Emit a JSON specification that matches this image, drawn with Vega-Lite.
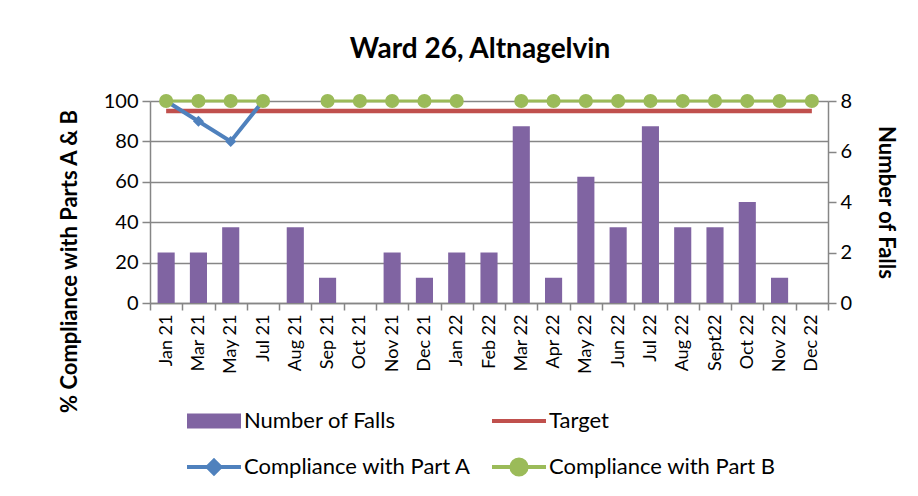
{
  "$schema": "https://vega.github.io/schema/vega-lite/v6.json",
  "autosize": {"type": "none"},
  "width": 678,
  "height": 202,
  "padding": {"left": 150, "top": 101, "right": 90, "bottom": 193},
  "background": "white",
  "title": {"text": "Ward 26, Altnagelvin", "fontSize": 28, "font": "Lato", "fontWeight": "bold", "color": "black", "offset": 27, "anchor": "middle", "dx": -9},
  "data": {"values": [
    {"month": "Jan 21", "falls": 2, "partA": 100, "partB": 100, "target": 95},
    {"month": "Mar 21", "falls": 2, "partA": 90, "partB": 100, "target": 95},
    {"month": "May 21", "falls": 3, "partA": 80, "partB": 100, "target": 95},
    {"month": "Jul 21", "falls": 0, "partA": 100, "partB": 100, "target": 95},
    {"month": "Aug 21", "falls": 3, "partA": null, "partB": null, "target": 95},
    {"month": "Sep 21", "falls": 1, "partA": null, "partB": 100, "target": 95},
    {"month": "Oct 21", "falls": 0, "partA": null, "partB": 100, "target": 95},
    {"month": "Nov 21", "falls": 2, "partA": null, "partB": 100, "target": 95},
    {"month": "Dec 21", "falls": 1, "partA": null, "partB": 100, "target": 95},
    {"month": "Jan 22", "falls": 2, "partA": null, "partB": 100, "target": 95},
    {"month": "Feb 22", "falls": 2, "partA": null, "partB": null, "target": 95},
    {"month": "Mar 22", "falls": 7, "partA": null, "partB": 100, "target": 95},
    {"month": "Apr 22", "falls": 1, "partA": null, "partB": 100, "target": 95},
    {"month": "May 22", "falls": 5, "partA": null, "partB": 100, "target": 95},
    {"month": "Jun 22", "falls": 3, "partA": null, "partB": 100, "target": 95},
    {"month": "Jul 22", "falls": 7, "partA": null, "partB": 100, "target": 95},
    {"month": "Aug 22", "falls": 3, "partA": null, "partB": 100, "target": 95},
    {"month": "Sept22", "falls": 3, "partA": null, "partB": 100, "target": 95},
    {"month": "Oct 22", "falls": 4, "partA": null, "partB": 100, "target": 95},
    {"month": "Nov 22", "falls": 1, "partA": null, "partB": 100, "target": 95},
    {"month": "Dec 22", "falls": 0, "partA": null, "partB": 100, "target": 95}
  ]},
  "encoding": {
    "x": {"field": "month", "type": "nominal", "sort": null, "title": null,
      "scale": {"paddingInner": 0, "paddingOuter": 0},
      "axis": {"labelAngle": -90, "tickBand": "extent", "grid": false, "labelPadding": 4, "tickSize": 7, "labelFontSize": 18}}
  },
  "layer": [
    {
      "mark": {"type": "bar", "width": {"band": 0.53}},
      "encoding": {
        "y": {"field": "falls", "type": "quantitative", "title": "Number of Falls",
          "scale": {"domain": [0, 8]},
          "axis": {"orient": "right", "values": [0, 2, 4, 6, 8], "grid": false, "titlePadding": 22, "labelPadding": 4}},
        "color": {"datum": "Number of Falls",
          "scale": {"domain": ["Number of Falls", "Target", "Compliance with Part A", "Compliance with Part B"], "range": ["#8064A2", "#C0504D", "#4F81BD", "#9BBB59"]},
          "legend": {
            "title": null, "orient": "bottom", "columns": 2, "offset": 36,
            "symbolSize": 1600, "labelFont": "Lato", "labelFontSize": 22, "labelColor": "black", "labelLimit": 400,
            "labelOffset": 19, "rowPadding": 19, "columnPadding": 12,
            "encode": {"symbols": {"update": {
              "shape": {"signal": "datum.value === 'Number of Falls' ? 'M-1.35,-0.38H1.35V0.38H-1.35Z' : datum.value === 'Target' ? 'M-1.35,0H1.35' : datum.value === 'Compliance with Part A' ? 'M-1.35,0H1.35M0,-0.32L0.32,0L0,0.32L-0.32,0Z' : 'M-1.35,0H1.35M0.38,0A0.38,0.38,0,1,1,-0.38,0A0.38,0.38,0,1,1,0.38,0Z'"},
              "fill": {"signal": "datum.value === 'Number of Falls' ? '#8064A2' : datum.value === 'Target' ? 'transparent' : datum.value === 'Compliance with Part A' ? '#4F81BD' : '#9BBB59'"},
              "stroke": {"signal": "datum.value === 'Number of Falls' ? '#8064A2' : datum.value === 'Target' ? '#C0504D' : datum.value === 'Compliance with Part A' ? '#4F81BD' : '#9BBB59'"},
              "strokeWidth": {"signal": "datum.value === 'Number of Falls' ? 0 : 4"},
              "opacity": {"value": 1},
              "size": {"value": 1600}
            }}}
          }}
      }
    },
    {
      "layer": [
        {
          "mark": {"type": "line", "strokeWidth": 4.5},
          "encoding": {
            "y": {"field": "target", "type": "quantitative", "title": "% Compliance with Parts A & B",
              "scale": {"domain": [0, 100]},
              "axis": {"orient": "left", "values": [0, 20, 40, 60, 80, 100], "grid": true, "titlePadding": 22, "labelPadding": 4, "titleY": 160}},
            "color": {"datum": "Target"}
          }
        },
        {
          "mark": {"type": "line", "strokeWidth": 4, "point": {"shape": "diamond", "size": 121, "filled": true}},
          "encoding": {
            "y": {"field": "partA", "type": "quantitative", "title": "% Compliance with Parts A & B",
              "scale": {"domain": [0, 100]},
              "axis": {"orient": "left", "values": [0, 20, 40, 60, 80, 100], "grid": true, "titlePadding": 22, "labelPadding": 4, "titleY": 160}},
            "color": {"datum": "Compliance with Part A"}
          }
        },
        {
          "mark": {"type": "line", "strokeWidth": 3, "point": {"shape": "circle", "size": 200, "filled": true, "opacity": 1}},
          "encoding": {
            "y": {"field": "partB", "type": "quantitative", "title": "% Compliance with Parts A & B",
              "scale": {"domain": [0, 100]},
              "axis": {"orient": "left", "values": [0, 20, 40, 60, 80, 100], "grid": true, "titlePadding": 22, "labelPadding": 4, "titleY": 160}},
            "color": {"datum": "Compliance with Part B"}
          }
        }
      ]
    }
  ],
  "resolve": {"scale": {"y": "independent"}},
  "config": {
    "font": "Lato",
    "view": {"stroke": null},
    "axis": {"labelFont": "Lato", "labelFontSize": 20, "labelColor": "black", "titleFont": "Lato", "titleFontSize": 22, "titleFontWeight": "bold", "titleColor": "black",
      "domainColor": "#868686", "domainWidth": 1.5, "tickColor": "#868686", "tickWidth": 1.5, "tickSize": 8, "gridColor": "#868686", "gridWidth": 1.3},
    "legend": {"layout": {"anchor": "middle"}}
  }
}
